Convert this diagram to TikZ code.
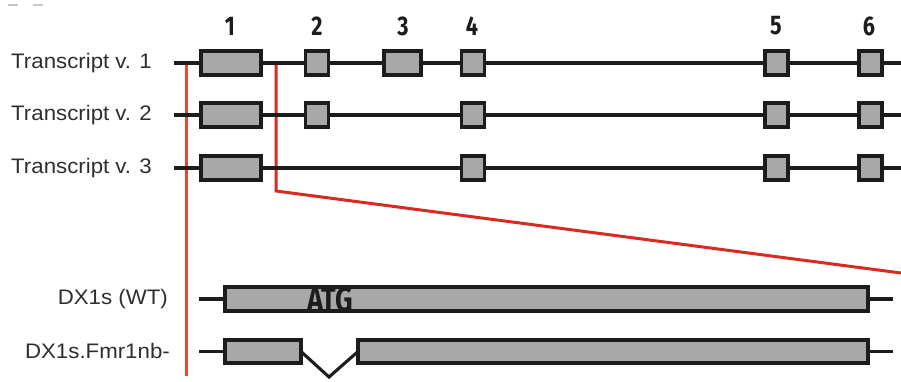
\documentclass[tikz,border=0pt]{standalone}
\usepackage{fontspec}
\setmainfont{Liberation Sans}
\newfontfamily\exonfont{Fira Sans}
\definecolor{exonfill}{HTML}{A8A8A8}
\definecolor{ink}{HTML}{1C1C1C}
\definecolor{labelink}{HTML}{2E2E2E}
\definecolor{cutA}{HTML}{E8492F}
\definecolor{cutB}{HTML}{D92A1F}
\newcommand{\lbl}[1]{\scalebox{1.06}[1]{\fontsize{21}{23}\selectfont #1}}
\newcommand{\exonnum}[1]{\scalebox{0.8}[1]{\exonfont\bfseries\fontsize{27}{28}\selectfont #1}}
\begin{document}
\begin{tikzpicture}[x=1pt,y=-1pt,
  exon/.style={draw=ink, fill=exonfill, line width=3.8pt, inner sep=0pt, outer sep=0pt,
               minimum height=24pt},
  smallexon/.style={exon, minimum width=23pt},
  backbone/.style={draw=ink, line width=3.4pt},
  thinbone/.style={draw=ink, line width=3.1pt},
  cutline/.style={line width=3pt},
  rowlabel/.style={anchor=east, text=labelink, inner sep=0pt},
  exonlabel/.style={text=ink, inner sep=0pt}]
\useasboundingbox (0,0) rectangle (901,381);

% faint marks at the top left corner
\draw[gray!45, line width=1.5pt] (8,5) -- (18,5) (33,5) -- (43,5);

% zoom lines linking exon 1 to the constructs below
\coordinate (zA0) at (186,63);
\coordinate (zA1) at (186,376);
\coordinate (zB0) at (276,63);
\coordinate (zB1) at (276,191);
\coordinate (zB2) at (901,273);
\draw[cutline, cutA] (zA0) -- (zA1);
\draw[cutline, cutB, line join=miter] (zB0) -- (zB1) -- (zB2);

% transcript backbones
\foreach \r/\y in {1/63, 2/115, 3/168} {
  \coordinate (s\r) at (174,\y);
  \coordinate (e\r) at (901,\y);
  \draw[backbone] (s\r) -- (e\r);
}

% exon numbers
\foreach \n/\x in {1/230, 2/317, 3/403, 4/472, 5/776, 6/869}
  \node[exonlabel] (n\n) at (\x,26) {\exonnum{\n}};

% transcript v. 1
\node[exon, minimum width=60pt] (t1e1) at (231,63) {};
\node[smallexon] (t1e2) at (317,63) {};
\node[exon, minimum width=37pt] (t1e3) at (402.5,63) {};
\node[smallexon] (t1e4) at (473,63) {};
\node[smallexon] (t1e5) at (776.5,63) {};
\node[smallexon] (t1e6) at (870.5,63) {};
% transcript v. 2
\node[exon, minimum width=60pt] (t2e1) at (231,115) {};
\node[smallexon] (t2e2) at (317,115) {};
\node[smallexon] (t2e4) at (473,115) {};
\node[smallexon] (t2e5) at (776.5,115) {};
\node[smallexon] (t2e6) at (870.5,115) {};
% transcript v. 3
\node[exon, minimum width=60pt] (t3e1) at (231,168) {};
\node[smallexon] (t3e4) at (473,168) {};
\node[smallexon] (t3e5) at (776.5,168) {};
\node[smallexon] (t3e6) at (870.5,168) {};

% row labels
\node[rowlabel] (l1) at (152,63) {\lbl{Transcript v. 1}};
\node[rowlabel] (l2) at (152,115) {\lbl{Transcript v. 2}};
\node[rowlabel] (l3) at (152,168) {\lbl{Transcript v. 3}};
\node[rowlabel] (l4) at (168,299) {\lbl{DX1s (WT)}};
\node[rowlabel] (l5) at (170,351) {\lbl{DX1s.Fmr1nb-}};

% wild-type construct
\coordinate (w0) at (199,299);
\coordinate (w1) at (893,299);
\draw[thinbone] (w0) -- (w1);
\node[exon, minimum width=643pt] (wt) at (546.5,299) {};
\node[text=ink, inner sep=0pt] (atg) at (330,300)
  {\scalebox{0.8}[1]{\exonfont\bfseries\fontsize{34}{35}\selectfont ATG}};

% knockout construct with the spliced gap
\node[exon, minimum width=76pt, minimum height=23pt] (ka) at (263,351.5) {};
\node[exon, minimum width=510pt, minimum height=23pt] (kb) at (613,351.5) {};
\coordinate (k0) at (199,351.5);
\coordinate (k1) at (893,351.5);
\coordinate (kv) at (329,377);
\draw[thinbone] (k0) -- (ka.west);
\draw[thinbone] (kb.east) -- (k1);
\draw[thinbone, line join=miter] (ka.east) -- (kv) -- (kb.west);
\end{tikzpicture}
\end{document}
